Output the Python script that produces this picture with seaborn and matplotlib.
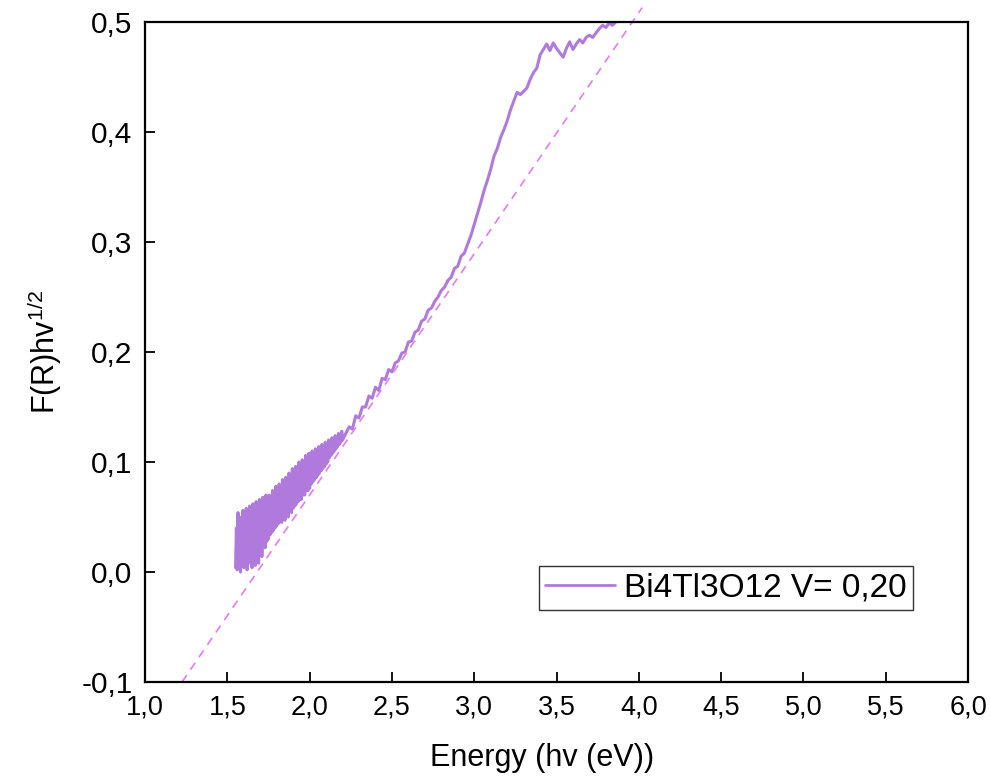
import matplotlib
matplotlib.use("Agg")
import matplotlib.pyplot as plt
import seaborn as sns
import pandas as pd

# Measured Kubelka-Munk spectrum (energy in eV, F(R)hv^1/2)
energy = [
    1.550, 1.555, 1.560, 1.565, 1.570, 1.575, 1.580, 1.585, 1.590, 1.595,
    1.600, 1.605, 1.610, 1.615, 1.620, 1.625, 1.630, 1.635, 1.640, 1.645,
    1.650, 1.655, 1.660, 1.665, 1.670, 1.675, 1.680, 1.685, 1.690, 1.695,
    1.700, 1.705, 1.710, 1.715, 1.720, 1.725, 1.730, 1.735, 1.740, 1.745,
    1.750, 1.755, 1.760, 1.765, 1.770, 1.775, 1.780, 1.785, 1.790, 1.795,
    1.800, 1.805, 1.810, 1.815, 1.820, 1.825, 1.830, 1.835, 1.840, 1.845,
    1.850, 1.855, 1.860, 1.865, 1.870, 1.875, 1.880, 1.885, 1.890, 1.895,
    1.900, 1.905, 1.910, 1.915, 1.920, 1.925, 1.930, 1.935, 1.940, 1.945,
    1.950, 1.955, 1.960, 1.965, 1.970, 1.975, 1.980, 1.985, 1.990, 1.995,
    2.000, 2.005, 2.010, 2.015, 2.020, 2.025, 2.030, 2.035, 2.040, 2.045,
    2.050, 2.055, 2.060, 2.065, 2.070, 2.075, 2.080, 2.085, 2.090, 2.095,
    2.100, 2.105, 2.110, 2.115, 2.120, 2.125, 2.130, 2.135, 2.140, 2.145,
    2.150, 2.155, 2.160, 2.165, 2.170, 2.175, 2.180, 2.185, 2.190, 2.195,
    2.200,
    2.22, 2.24, 2.26, 2.28, 2.30, 2.32, 2.34, 2.36, 2.38, 2.40,
    2.42, 2.44, 2.46, 2.48, 2.50, 2.52, 2.54, 2.56, 2.58, 2.60,
    2.62, 2.64, 2.66, 2.68, 2.70, 2.72, 2.74, 2.76, 2.78, 2.80,
    2.82, 2.84, 2.86, 2.88, 2.90, 2.92, 2.94, 2.96, 2.98, 3.00,
    3.02, 3.04, 3.06, 3.08, 3.10, 3.12, 3.14, 3.16, 3.18, 3.20,
    3.22, 3.24, 3.26, 3.28, 3.30, 3.32, 3.34, 3.36, 3.38, 3.40,
    3.42, 3.44, 3.46, 3.48, 3.50, 3.52, 3.54, 3.56, 3.58, 3.60,
    3.62, 3.64, 3.66, 3.68, 3.70, 3.72, 3.74, 3.76, 3.78, 3.80,
    3.82, 3.84, 3.86,
]
signal = [
    0.004, 0.040, 0.002, 0.054, 0.006, 0.046, 0.000, 0.050, 0.010, 0.056,
    0.004, 0.038, 0.012, 0.058, 0.002, 0.048, 0.008, 0.060, 0.014, 0.052,
    0.004, 0.062, 0.010, 0.046, 0.006, 0.064, 0.016, 0.054, 0.008, 0.066,
    0.020, 0.058, 0.014, 0.068, 0.026, 0.060, 0.022, 0.070, 0.028, 0.064,
    0.030, 0.070, 0.034, 0.064, 0.036, 0.074, 0.038, 0.068, 0.040, 0.078,
    0.042, 0.072, 0.044, 0.080, 0.046, 0.074, 0.045, 0.084, 0.048, 0.078,
    0.047, 0.086, 0.052, 0.082, 0.050, 0.090, 0.056, 0.084, 0.054, 0.094,
    0.058, 0.088, 0.060, 0.096, 0.062, 0.092, 0.064, 0.100, 0.066, 0.096,
    0.066, 0.102, 0.070, 0.098, 0.070, 0.106, 0.074, 0.100, 0.074, 0.108,
    0.076, 0.104, 0.080, 0.110, 0.082, 0.106, 0.084, 0.112, 0.086, 0.108,
    0.088, 0.114, 0.090, 0.110, 0.092, 0.116, 0.094, 0.112, 0.096, 0.118,
    0.098, 0.114, 0.100, 0.120, 0.104, 0.116, 0.106, 0.122, 0.108, 0.118,
    0.110, 0.124, 0.112, 0.120, 0.114, 0.126, 0.116, 0.122, 0.118, 0.128,
    0.120,
    0.126, 0.132, 0.130, 0.142, 0.140, 0.150, 0.150, 0.160, 0.158, 0.168,
    0.165, 0.176, 0.175, 0.184, 0.182, 0.190, 0.192, 0.199, 0.200, 0.209,
    0.210, 0.218, 0.220, 0.228, 0.230, 0.238, 0.240, 0.246, 0.250, 0.256,
    0.259, 0.265, 0.268, 0.276, 0.278, 0.287, 0.290, 0.298, 0.306, 0.316,
    0.326, 0.336, 0.347, 0.356, 0.366, 0.378, 0.385, 0.395, 0.402, 0.410,
    0.420, 0.428, 0.436, 0.434, 0.437, 0.440, 0.448, 0.454, 0.458, 0.470,
    0.475, 0.480, 0.474, 0.481, 0.476, 0.472, 0.468, 0.476, 0.482, 0.475,
    0.480, 0.484, 0.481, 0.486, 0.488, 0.486, 0.490, 0.494, 0.497, 0.495,
    0.499, 0.497, 0.500,
]

# Linear (Tauc) extrapolation of the absorption edge
fit_energy = [1.225, 4.02]
fit_values = [-0.100, 0.513]

series_label = "Bi4Tl3O12 V= 0,20"
x_ticks = [1.0, 1.5, 2.0, 2.5, 3.0, 3.5, 4.0, 4.5, 5.0, 5.5, 6.0]
y_ticks = [-0.1, 0.0, 0.1, 0.2, 0.3, 0.4, 0.5]

curve_color = "#B07ADC"
fit_color = "#E67CF2"

sns.set_theme(style="ticks")
plt.rcParams["font.family"] = ["Liberation Sans", "DejaVu Sans"]
plt.rcParams["mathtext.fontset"] = "custom"
plt.rcParams["mathtext.rm"] = "Liberation Sans"
plt.rcParams["mathtext.it"] = "Liberation Sans"
plt.rcParams["text.color"] = "black"
plt.rcParams["axes.labelcolor"] = "black"

fig = plt.figure(figsize=(9.9, 7.8), dpi=100)
ax = fig.add_axes([0.1465, 0.1256, 0.8313, 0.8462])

df = pd.DataFrame({"energy": energy, "signal": signal})
sns.lineplot(data=df, x="energy", y="signal", estimator=None, sort=False,
             color=curve_color, linewidth=2.2, label=series_label, ax=ax)

fit_df = pd.DataFrame({"energy": fit_energy, "signal": fit_values})
sns.lineplot(data=fit_df, x="energy", y="signal", estimator=None,
             color=fit_color, linewidth=1.2, ax=ax)
fit_line = ax.get_lines()[-1]
fit_line.set_dashes([5, 4])
fit_line.set_clip_on(False)
fit_line.set_label("_nolegend_")

ax.set_xlim(1.0, 6.0)
ax.set_ylim(-0.1, 0.5)
ax.set_xticks(x_ticks)
ax.set_yticks(y_ticks)
ax.set_xticklabels([f"{v:.1f}".replace(".", ",") for v in x_ticks], fontsize=19.5)
ax.set_yticklabels([f"{v:.1f}".replace(".", ",") for v in y_ticks], fontsize=21.5)

ax.tick_params(axis="both", direction="in", length=7, width=1.3,
               pad=9, colors="black")
ax.tick_params(axis="x", pad=9)
ax.tick_params(top=False, right=False)
for side in ["left", "right", "top", "bottom"]:
    ax.spines[side].set_visible(True)
    ax.spines[side].set_linewidth(1.6)
    ax.spines[side].set_color("black")

ax.set_xlabel("Energy (hv (eV))", fontsize=22, labelpad=10)
ax.xaxis.set_label_coords(0.483, -0.093)
ax.set_ylabel(r"F(R)hv$^{1/2}$", fontsize=22, labelpad=12)

leg = ax.legend(loc="lower right", bbox_to_anchor=(0.933, 0.109),
                fontsize=24, frameon=True, fancybox=False,
                handlelength=2.1, handletextpad=0.25, borderpad=0.2,
                borderaxespad=0.0)
leg.get_frame().set_edgecolor("black")
leg.get_frame().set_linewidth(1.0)
for line in leg.get_lines():
    line.set_linewidth(2.0)

fig.savefig("out.png", dpi=100, facecolor="white")
